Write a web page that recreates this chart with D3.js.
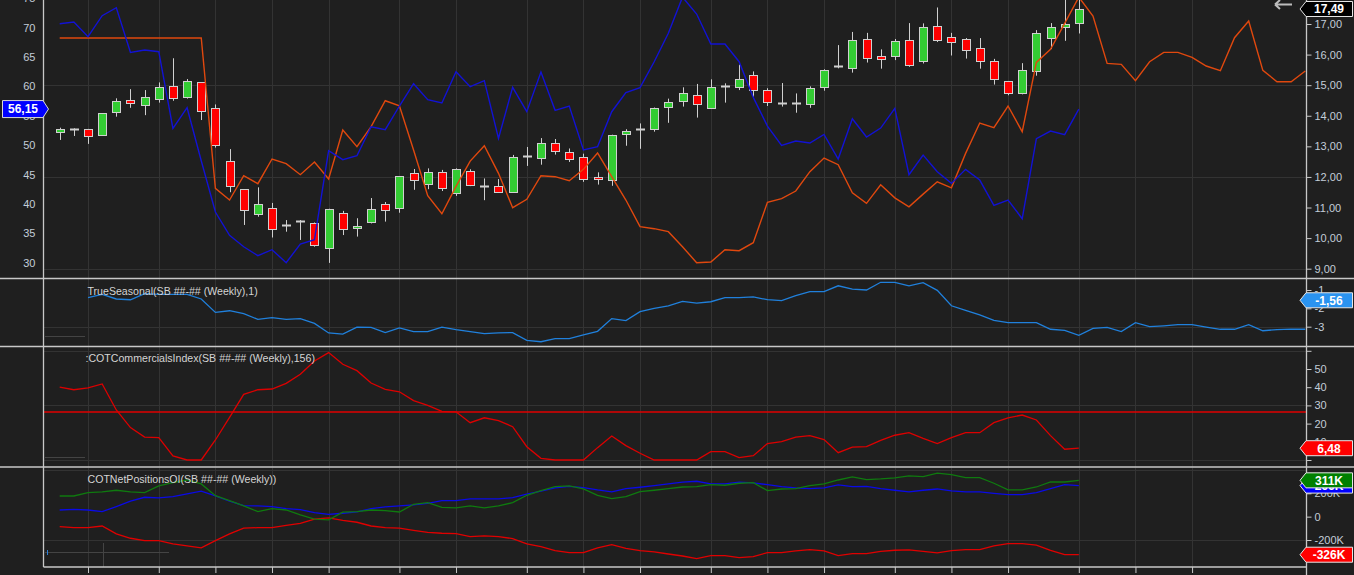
<!DOCTYPE html>
<html><head><meta charset="utf-8">
<script src="https://cdn.jsdelivr.net/npm/d3@7/dist/d3.min.js"></script>
<style>
html,body{margin:0;padding:0;background:#1f1f1f;overflow:hidden}
svg{display:block}
</style></head><body>
<svg id="c" width="1354" height="575"></svg>
<script>
// ---------- DATA (weekly bars, index 0..88) ----------
const monthTicks = [2,7,11,15,19,24,28,33,37,41,46,50,54,59,63,67,72,76,80];

const candleOpen  = [13.46,13.56,13.56,13.35,14.11,14.50,14.33,14.54,14.96,14.62,15.09,14.24,12.51,11.59,10.78,11.00,10.43,10.55,10.51,9.69,10.81,10.32,10.51,11.10,10.97,12.12,11.77,12.15,11.48,12.21,11.72,11.69,11.48,12.67,12.61,13.10,12.83,12.64,11.99,11.92,13.42,13.57,13.56,14.27,14.47,14.67,14.24,14.97,14.96,15.32,14.83,14.43,14.43,14.37,14.93,15.63,15.56,16.50,15.95,15.94,16.47,15.77,16.92,16.57,16.50,16.20,15.78,15.13,14.72,15.48,16.52,16.89,17.02];
const candleHigh  = [13.61,13.59,13.57,14.08,14.57,14.87,14.84,15.09,15.88,15.20,15.09,14.37,12.91,11.59,11.66,11.15,10.59,10.59,10.51,10.96,10.89,10.65,11.31,11.18,12.02,12.26,12.28,12.23,12.28,12.25,11.95,11.93,12.72,12.98,13.27,13.24,12.93,12.76,12.15,13.38,13.56,13.75,14.27,14.56,14.93,15.04,15.19,15.06,15.67,15.45,14.90,15.07,14.73,14.96,15.52,16.31,16.74,16.71,16.17,16.51,17.03,17.02,17.54,16.71,16.54,16.54,15.86,15.13,15.72,16.80,17.03,17.90,17.90];
const candleLow   = [13.21,13.34,13.08,13.35,13.97,14.26,14.02,14.43,14.49,14.56,13.86,12.96,11.50,10.43,10.70,10.02,10.21,9.94,9.72,9.19,10.10,10.05,10.48,10.54,10.83,11.58,11.60,11.54,11.38,11.70,11.24,11.49,11.48,12.36,12.40,12.73,12.49,11.84,11.75,11.71,13.02,12.92,13.48,13.77,14.30,13.94,14.24,14.43,14.84,14.62,14.32,14.30,14.10,14.26,14.82,15.55,15.41,15.74,15.54,15.82,15.60,15.71,16.41,15.97,15.87,15.54,15.02,14.67,14.70,15.31,16.18,16.45,16.69];
const candleClose = [13.56,13.56,13.32,14.08,14.47,14.41,14.60,14.93,14.57,15.13,14.14,13.02,11.69,10.91,11.10,10.32,10.43,10.55,9.79,10.96,10.28,10.38,10.94,10.91,12.02,11.89,12.17,11.63,12.25,11.76,11.72,11.50,12.64,12.67,13.10,12.84,12.61,11.92,11.92,13.38,13.51,13.57,14.24,14.44,14.73,14.37,14.93,14.97,15.21,14.83,14.44,14.43,14.43,14.90,15.48,15.63,16.47,15.88,15.84,16.43,15.66,16.89,16.47,16.40,16.14,15.78,15.19,14.73,15.48,16.72,16.89,17.00,17.49];

// left-axis series (0..100 scale)
const blueSeries = [70.68,70.96,68.47,72.04,73.40,65.80,66.20,65.91,52.87,56.38,47.36,38.62,34.65,32.72,31.19,32.21,30.00,33.18,33.91,49.06,47.53,48.21,53.15,52.64,56.67,60.47,57.74,57.18,62.51,59.96,60.98,51.16,59.84,55.70,62.45,55.93,56.67,49.18,49.74,55.70,58.94,59.79,64.21,69.04,75.20,72.33,67.22,67.22,64.21,58.14,53.26,49.97,50.71,50.37,51.84,47.65,54.51,51.39,52.92,56.27,44.98,48.33,45.49,43.50,45.89,44.07,39.76,40.67,37.49,51.11,52.41,51.79,56.15];
const orangeSeries = [68.24,68.24,68.24,68.24,68.24,68.24,68.24,68.24,68.24,68.24,68.24,42.65,40.67,44.81,43.45,47.65,46.85,44.98,47.13,44.24,52.58,49.74,53.15,57.57,56.72,49.18,41.40,38.34,43.0,47.30,49.91,45.21,39.36,40.79,44.81,44.64,43.96,45.89,48.67,44.64,40.67,36.13,35.79,35.28,32.72,30.00,30.11,32.21,32.04,33.40,40.27,40.90,42.20,45.49,47.82,46.68,41.91,40.10,43.26,41.04,39.50,41.67,43.77,42.75,48.61,53.77,52.98,56.67,52.30,64.10,66.31,70.74,75.20,71.99,63.93,63.76,60.98,64.21,65.80,65.80,64.95,63.48,62.68,68.30,71.13,62.74,60.81,60.81,62.62];

// TrueSeasonal (starts at bar 2)
const seasonalStart = 2;
const seasonalValues = [-1.42,-1.24,-1.49,-1.53,-1.20,-1.24,-1.24,-1.24,-1.49,-2.22,-2.13,-2.29,-2.60,-2.51,-2.60,-2.56,-2.82,-3.34,-3.40,-3.02,-3.04,-3.32,-3.07,-3.27,-3.27,-3.02,-3.16,-3.27,-3.38,-3.34,-3.32,-3.74,-3.82,-3.65,-3.65,-3.45,-3.25,-2.56,-2.67,-2.18,-2.00,-1.86,-1.62,-1.71,-1.64,-1.42,-1.42,-1.38,-1.53,-1.58,-1.31,-1.09,-1.09,-0.77,-0.95,-1.00,-0.58,-0.58,-0.77,-0.60,-1.02,-1.86,-2.11,-2.36,-2.65,-2.78,-2.78,-2.78,-3.14,-3.20,-3.47,-3.09,-3.04,-3.27,-2.78,-3.00,-2.95,-2.89,-2.89,-3.02,-3.14,-3.14,-2.89,-3.22,-3.16,-3.13,-3.14];
const seasonalLabel = -1.56;

// COT Commercials Index
const cotIndex = [40.1,38.6,39.6,41.8,27.5,17.8,12.6,12.3,2.2,0,0,11.0,23.4,36.1,38.6,39.0,42.1,47.1,54.4,59.0,52.6,49.1,42.3,38.8,37.5,32.6,30.0,26.7,26.5,20.5,23.2,21.6,18.3,7.3,0.9,0,0,0,6.8,13.2,7.9,3.7,0,0,0,0,4.6,4.6,1.3,2.4,9.0,10.1,12.6,13.4,11.2,4.0,7.1,7.3,10.8,13.6,15.0,11.9,9.0,12.3,15.0,15.0,20.5,23.2,24.7,22.0,13.4,5.9,6.48];
const cotThreshold = 26.4;

// COT Net Positions (thousands)
const netGreen = [177,177,206,212,226,212,206,263,291,314,280,180,137,92,43,69,57,15,-22,-28,38,43,57,51,40,106,120,80,75,92,75,92,120,183,223,257,263,237,183,154,171,214,226,240,254,257,274,269,286,291,223,237,240,266,280,314,340,317,323,332,349,343,372,360,334,334,286,229,229,254,297,297,311];
const netBlue  = [57,63,57,43,86,132,166,160,171,195,218,177,132,94,92,86,69,60,34,20,29,40,69,83,92,100,114,137,137,152,152,152,163,192,218,246,260,249,229,212,240,252,266,280,296,303,280,280,295,289,274,257,246,240,246,272,257,260,240,226,212,226,237,220,212,212,200,189,189,206,240,274,266];
const netRed   = [-86,-94,-94,-80,-148,-185,-206,-206,-234,-251,-268,-206,-148,-99,-94,-94,-74,-57,-22,-11,-31,-48,-80,-94,-99,-117,-134,-142,-145,-171,-165,-171,-188,-234,-257,-291,-308,-308,-268,-240,-271,-291,-302,-320,-337,-360,-334,-334,-351,-343,-308,-308,-294,-283,-294,-334,-317,-317,-297,-288,-285,-297,-311,-291,-283,-283,-251,-231,-231,-243,-288,-326,-326];

const leftTicks = [30,35,40,45,50,55,60,65,70,75];
const rightTicks = [9,10,11,12,13,14,15,16,17];
const seasonalTicks = [-1,-2,-3];
const cotTicks = [0,10,20,30,40,50,60];
const netTicks = [-200,0,200];

const titleSeasonal = "TrueSeasonal(SB ##-## (Weekly),1)";
const titleCot = ":COTCommercialsIndex(SB ##-## (Weekly),156)";
const titleNet = "COTNetPositionsOI(SB ##-## (Weekly))";

// ---------- DRAW ----------
const W = 1354, H = 575;
const FONT = "'Liberation Sans', Arial, sans-serif";
const BG = "#1f1f1f", GRID = "#333333", FRAME = "#c8c8c8", AXTXT = "#c3cdd8";
const xL = 43.5, xR = 1306.5;
const svg = d3.select("#c");
svg.append("rect").attr("width", W).attr("height", H).attr("fill", BG);
const defs = svg.append("defs");

const P = [{id:"p1", y0:0, y1:278}, {id:"p2", y0:278.5, y1:346.5}, {id:"p3", y0:347, y1:467}, {id:"p4", y0:467.5, y1:567}];
P.forEach(p => defs.append("clipPath").attr("id", p.id).append("rect")
  .attr("x", xL).attr("y", p.y0).attr("width", xR - xL).attr("height", p.y1 - p.y0));

const x = d3.scaleLinear().domain([0, 88]).range([59.7, 1305.3]);
const yL = d3.scaleLinear().domain([30, 70]).range([262.7, 27.7]);
const yR = d3.scaleLinear().domain([9, 17]).range([268.7, 24]);
const yS = d3.scaleLinear().domain([-3, -1]).range([326.7, 290]);
const yC = d3.scaleLinear().domain([0, 50]).range([460, 369]);
const yN = d3.scaleLinear().domain([-200, 200]).range([540, 493.3]);

const px = v => Math.round(v) + 0.5;

// grid
const grid = svg.append("g").attr("stroke", GRID).attr("stroke-width", 1);
P.forEach(p => {
  grid.append("g").selectAll("line").data(monthTicks).join("line")
    .attr("x1", d => px(x(d))).attr("x2", d => px(x(d))).attr("y1", p.y0).attr("y2", p.y1);
});
const hGrid = (vals, sc, p) => grid.append("g").attr("clip-path", `url(#${p.id})`)
  .selectAll("line").data(vals).join("line")
  .attr("x1", xL).attr("x2", xR).attr("y1", d => px(sc(d))).attr("y2", d => px(sc(d)));
hGrid([9, 12, 15], yR, P[0]);
hGrid([-3, 0], yS, P[1]);
hGrid([0, 30, 60], yC, P[2]);
hGrid([-200, 400], yN, P[3]);

// small leftover marks on the left edge
const deco = svg.append("g").attr("stroke", "#444").attr("stroke-width", 1);
deco.append("line").attr("x1", 45).attr("x2", 85).attr("y1", 336.5).attr("y2", 336.5);
deco.append("line").attr("x1", 45).attr("x2", 85).attr("y1", 457.5).attr("y2", 457.5);
deco.append("line").attr("x1", 45).attr("x2", 169).attr("y1", 552.5).attr("y2", 552.5);
deco.append("line").attr("x1", 103.5).attr("x2", 103.5).attr("y1", 543).attr("y2", 567);
svg.append("line").attr("x1", 47.5).attr("x2", 47.5).attr("y1", 550).attr("y2", 555).attr("stroke", "#2a7fd8");

// ---- panel 1: candles ----
const g1 = svg.append("g").attr("clip-path", "url(#p1)");
const cIdx = d3.range(candleClose.length);
g1.append("g").selectAll("line").data(cIdx).join("line")
  .attr("x1", i => px(x(i))).attr("x2", i => px(x(i)))
  .attr("y1", i => yR(candleHigh[i])).attr("y2", i => yR(candleLow[i]))
  .attr("stroke", "#d0d0d0").attr("stroke-width", 1);
const bodies = cIdx.filter(i => Math.abs(candleOpen[i] - candleClose[i]) >= 0.005);
const dojis = cIdx.filter(i => Math.abs(candleOpen[i] - candleClose[i]) < 0.005);
g1.append("g").selectAll("rect").data(bodies).join("rect")
  .attr("x", i => Math.round(x(i)) - 3.5)
  .attr("width", 8)
  .attr("y", i => Math.round(yR(Math.max(candleOpen[i], candleClose[i]))) + 0.5)
  .attr("height", i => Math.max(1, Math.round(Math.abs(yR(candleOpen[i]) - yR(candleClose[i])))))
  .attr("fill", i => candleClose[i] > candleOpen[i] ? "#33cc33" : "#ff0000")
  .attr("stroke", "#d0d0d0").attr("stroke-width", 1);
g1.append("g").selectAll("line").data(dojis).join("line")
  .attr("x1", i => Math.round(x(i)) - 4).attr("x2", i => Math.round(x(i)) + 5)
  .attr("y1", i => Math.round(yR(candleClose[i])) + 0.5).attr("y2", i => Math.round(yR(candleClose[i])) + 0.5)
  .attr("stroke", "#d0d0d0").attr("stroke-width", 2);

const lineL = d3.line().x((d, i) => x(i)).y(d => yL(d));
g1.append("path").attr("d", lineL(orangeSeries)).attr("fill", "none").attr("stroke", "#e0480e").attr("stroke-width", 1.4);
g1.append("path").attr("d", lineL(blueSeries)).attr("fill", "none").attr("stroke", "#1212d4").attr("stroke-width", 1.4);

// ---- panel 2 ----
const g2 = svg.append("g").attr("clip-path", "url(#p2)");
g2.append("path").attr("d", d3.line().x((d, i) => x(i + seasonalStart)).y(d => yS(d))(seasonalValues))
  .attr("fill", "none").attr("stroke", "#2080dc").attr("stroke-width", 1.3);

// ---- panel 3 ----
const g3 = svg.append("g").attr("clip-path", "url(#p3)");
g3.append("line").attr("x1", xL).attr("x2", xR).attr("y1", yC(cotThreshold)).attr("y2", yC(cotThreshold))
  .attr("stroke", "#e00000").attr("stroke-width", 1.4);
g3.append("path").attr("d", d3.line().x((d, i) => x(i)).y(d => yC(d))(cotIndex))
  .attr("fill", "none").attr("stroke", "#dc0000").attr("stroke-width", 1.3);

// ---- panel 4 ----
const g4 = svg.append("g").attr("clip-path", "url(#p4)");
const lineN = d3.line().x((d, i) => x(i)).y(d => yN(d));
g4.append("path").attr("d", lineN(netRed)).attr("fill", "none").attr("stroke", "#e00000").attr("stroke-width", 1.3);
g4.append("path").attr("d", lineN(netBlue)).attr("fill", "none").attr("stroke", "#0a0ae6").attr("stroke-width", 1.3);
g4.append("path").attr("d", lineN(netGreen)).attr("fill", "none").attr("stroke", "#0f7a0f").attr("stroke-width", 1.3);

// ---- titles ----
const tt = svg.append("g").attr("font-family", FONT).attr("font-size", "10.6px").attr("fill", "#d4d4d4");
tt.append("text").attr("x", 87.5).attr("y", 294.5).text(titleSeasonal);
tt.append("text").attr("x", 85.5).attr("y", 361.5).text(titleCot);
tt.append("text").attr("x", 87.5).attr("y", 483).text(titleNet);

// ---- frame ----
const fr = svg.append("g").attr("stroke", FRAME);
[278.5, 346.5, 467].forEach(y => fr.append("line").attr("x1", 0).attr("x2", W).attr("y1", y).attr("y2", y).attr("stroke-width", 1.5));
fr.append("line").attr("x1", xL).attr("x2", xL).attr("y1", 0).attr("y2", 567).attr("stroke-width", 1.3);
fr.append("line").attr("x1", xR).attr("x2", xR).attr("y1", 0).attr("y2", H).attr("stroke-width", 1.3);
fr.append("line").attr("x1", xL).attr("x2", xR).attr("y1", 567).attr("y2", 567).attr("stroke-width", 1.5);

// ---- axes ----
function styleAxis(g) {
  g.attr("font-family", FONT).attr("font-size", 11);
  g.select(".domain").remove();
  g.selectAll(".tick line").attr("stroke", FRAME);
  g.selectAll(".tick text").attr("fill", AXTXT);
}
styleAxis(svg.append("g").attr("transform", `translate(${xL},0)`)
  .call(d3.axisLeft(yL).tickValues(leftTicks).tickSize(0).tickPadding(8).tickFormat(d => String(d))));
const fmtC = d => d3.format(".2f")(d).replace(".", ",").replace("\u2212", "-");
styleAxis(svg.append("g").attr("transform", `translate(${xR},0)`)
  .call(d3.axisRight(yR).tickValues(rightTicks).tickSize(5).tickPadding(3).tickFormat(fmtC)));
styleAxis(svg.append("g").attr("transform", `translate(${xR},0)`)
  .call(d3.axisRight(yS).tickValues(seasonalTicks).tickSize(5).tickPadding(3).tickFormat(d => String(d))));
styleAxis(svg.append("g").attr("transform", `translate(${xR},0)`)
  .call(d3.axisRight(yC).tickValues(cotTicks).tickSize(5).tickPadding(3).tickFormat(d => (d > 0 && d < 60) ? String(d) : "")));
styleAxis(svg.append("g").attr("transform", `translate(${xR},0)`)
  .call(d3.axisRight(yN).tickValues(netTicks).tickSize(5).tickPadding(3).tickFormat(d => d === 0 ? "0" : d + "K")));
styleAxis(svg.append("g").attr("transform", `translate(0,567)`)
  .call(d3.axisBottom(x).tickValues(monthTicks).tickSize(6).tickFormat("")));

// ---- value badges ----
function badgeRight(v, sc, text, fill) {
  const yc = sc(v), h = 7.5;
  const g = svg.append("g");
  g.append("path").attr("d", `M1300,${yc} L1306,${yc - h} L1352.5,${yc - h} L1352.5,${yc + h} L1306,${yc + h} Z`)
    .attr("fill", fill).attr("stroke", "#e6e6e6").attr("stroke-width", 1);
  g.append("text").attr("x", 1329).attr("y", yc).attr("dy", "0.36em").attr("text-anchor", "middle")
    .attr("font-family", FONT).attr("font-size", "12px").attr("font-weight", "bold").attr("fill", "#ffffff").text(text);
}
const lastC = candleClose[candleClose.length - 1];
badgeRight(lastC, v => Math.max(8.5, yR(v)), fmtC(lastC), "#000000");
badgeRight(seasonalLabel, yS, fmtC(seasonalLabel), "#2a93f0");
const lastCot = cotIndex[cotIndex.length - 1];
badgeRight(lastCot, yC, fmtC(lastCot), "#ff0000");
badgeRight(netBlue[netBlue.length - 1], yN, netBlue[netBlue.length - 1] + "K", "#0000ff");
badgeRight(netGreen[netGreen.length - 1], yN, netGreen[netGreen.length - 1] + "K", "#008000");
badgeRight(netRed[netRed.length - 1], yN, netRed[netRed.length - 1] + "K", "#ff0000");

// left badge (blue series last value)
const lastBlue = blueSeries[blueSeries.length - 1];
{
  const yc = yL(lastBlue), h = 8.5;
  const g = svg.append("g");
  g.append("path").attr("d", `M2.5,${yc - h} L43,${yc - h} L48.5,${yc} L43,${yc + h} L2.5,${yc + h} Z`)
    .attr("fill", "#0000ff").attr("stroke", "#d8d8d8").attr("stroke-width", 1);
  g.append("text").attr("x", 23).attr("y", yc).attr("dy", "0.36em").attr("text-anchor", "middle")
    .attr("font-family", FONT).attr("font-size", "12px").attr("font-weight", "bold").attr("fill", "#ffffff")
    .text(fmtC(lastBlue));
}

// back arrow icon
svg.append("path").attr("d", "M1275,4.5 L1292,4.5 M1275,4.5 L1280,0 M1275,4.5 L1280,9")
  .attr("stroke", "#bdbdbd").attr("stroke-width", 2).attr("fill", "none");
</script>
</body></html>
